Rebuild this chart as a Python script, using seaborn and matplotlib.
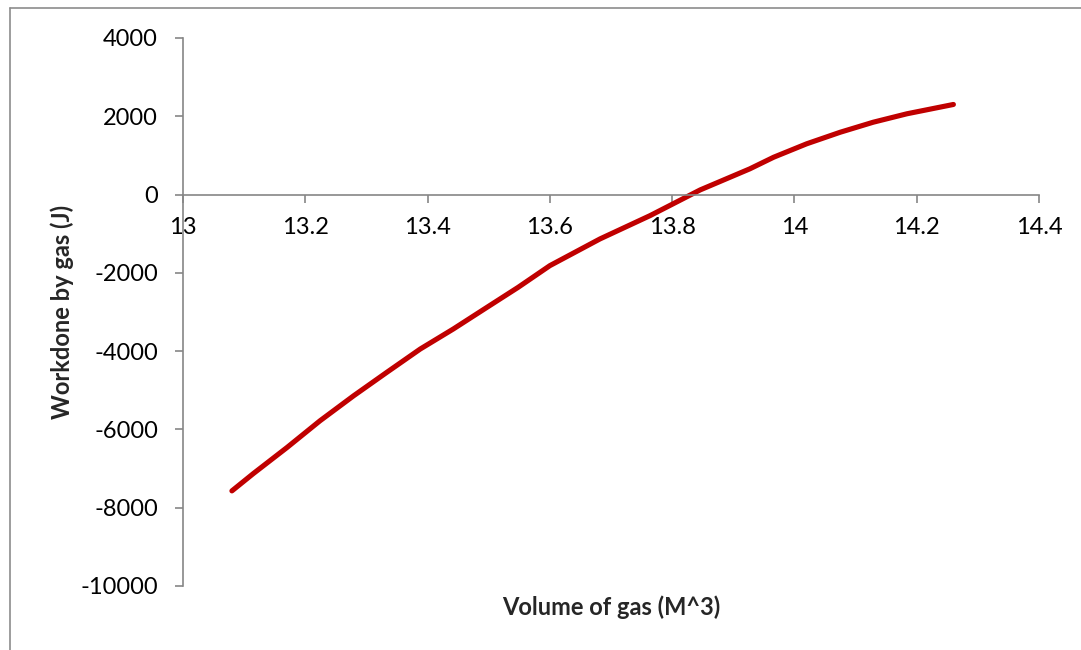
import numpy as np
import pandas as pd
import matplotlib
matplotlib.use("Agg")
import matplotlib.pyplot as plt
import seaborn as sns
from matplotlib.lines import Line2D

# Values
volume = [13.080, 13.115, 13.170, 13.224, 13.279, 13.333, 13.388, 13.442,
          13.497, 13.548, 13.600, 13.682, 13.764, 13.846, 13.927, 13.966,
          14.020, 14.075, 14.129, 14.184, 14.260]
work = [-7570, -7128, -6463, -5780, -5141, -4545, -3946, -3435,
        -2882, -2371, -1816, -1133, -537, 120, 657, 954,
        1297, 1593, 1849, 2064, 2302]

x_ticks = [13, 13.2, 13.4, 13.6, 13.8, 14, 14.2, 14.4]
x_tick_labels = ["13", "13.2", "13.4", "13.6", "13.8", "14", "14.2", "14.4"]
y_ticks = [-10000, -8000, -6000, -4000, -2000, 0, 2000, 4000]

df = pd.DataFrame({"volume": volume, "work": work})

sns.set_style("white")
plt.rcParams["font.family"] = ["Lato", "DejaVu Sans"]
plt.rcParams["axes.unicode_minus"] = False

AXIS_GREY = "#868686"

fig = plt.figure(figsize=(10.81, 6.5), dpi=100)
ax = fig.add_axes([183 / 1081, 1 - 586 / 650, 856 / 1081, 548 / 650])

sns.lineplot(data=df, x="volume", y="work", ax=ax, color="#C00000",
             linewidth=3.7, estimator=None, sort=False)
for ln in ax.get_lines():
    ln.set_solid_capstyle("round")
    ln.set_solid_joinstyle("round")

ax.set_xlim(13, 14.4)
ax.set_ylim(-10000, 4000)
ax.set_xticks(x_ticks)
ax.set_xticklabels(x_tick_labels)
ax.set_yticks(y_ticks)

# Excel style: x axis crosses at y = 0
ax.spines["bottom"].set_position(("data", 0))
ax.spines["top"].set_visible(False)
ax.spines["right"].set_visible(False)
for side in ["left", "bottom"]:
    ax.spines[side].set_color(AXIS_GREY)
    ax.spines[side].set_linewidth(1.2)

ax.tick_params(axis="both", which="major", direction="out", length=6,
               width=1.2, color=AXIS_GREY, labelsize=17, labelcolor="black")
ax.tick_params(axis="x", pad=10)
ax.tick_params(axis="y", pad=12)
ax.xaxis.set_ticks_position("bottom")
ax.yaxis.set_ticks_position("left")

ax.set_xlabel("Volume of gas (M^3)", fontsize=17, fontweight="bold")
ax.set_ylabel("Workdone by gas (J)", fontsize=17, fontweight="bold")
ax.xaxis.set_label_coords(0.5, -(607 - 586) / 548)
ax.xaxis.label.set_va("center")
ax.yaxis.set_label_coords(-(183 - 62) / 856, 0.5)
ax.yaxis.label.set_va("center")

# Chart area border (top and left visible in the crop)
x0 = 9.5 / 1081
y0 = 1 - 7.5 / 650
fig.add_artist(Line2D([x0, 1.01], [y0, y0], color="#8c8c8c", linewidth=1.2,
                      transform=fig.transFigure))
fig.add_artist(Line2D([x0, x0], [y0, -0.01], color="#8c8c8c", linewidth=1.2,
                      transform=fig.transFigure))

fig.savefig("out.png", dpi=100, facecolor="white")
plt.close(fig)
